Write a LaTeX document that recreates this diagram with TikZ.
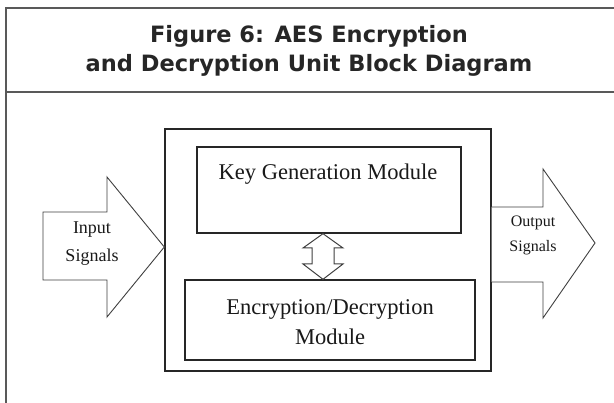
\documentclass[tikz,border=0pt]{standalone}
\usepackage{fontspec}
\setmainfont{Liberation Serif}
\newfontfamily\titlefont{DejaVu Sans}
\begin{document}
\begin{tikzpicture}[x=1pt,y=-1pt,
  frameline/.style={draw=black!65, line width=1.1pt},
  blockbox/.style={draw=black!85, line width=1.4pt},
  arrowshape/.style={draw=black!75, line width=0.9pt, line join=miter, fill=white},
  titletext/.style={font=\titlefont\bfseries\fontsize{22.5}{29}\selectfont, text=black!85, align=center},
  blocktext/.style={font=\fontsize{22.5}{30}\selectfont, text=black!90, align=center},
  sigtext/.style={font=\fontsize{18}{28}\selectfont, text=black!90, align=center, inner sep=0pt}]
\useasboundingbox (0,0) rectangle (614,403);
\fill[white] (0,0) rectangle (614,403);

% panel frame: open on the right and bottom, with a header rule
\draw[frameline] (6,403) -- (6,8) -- (614,8);
\draw[frameline] (6,92) -- (614,92);
\node[titletext] (title) at (309,51) {Figure 6: AES Encryption\\and Decryption Unit Block Diagram};

% unit outline and its two modules
\node[blockbox, minimum width=326pt, minimum height=242pt, inner sep=0pt] (unit) at (328,250) {};
\node[blockbox, minimum width=264pt, minimum height=86pt, inner sep=0pt] (keygen) at (329,190) {};
\node[blocktext] (keytext) at (328,174) {Key Generation Module};
\node[blockbox, minimum width=290pt, minimum height=80pt, inner sep=0pt] (encdec) at (330,320) {};
\node[blocktext] (enctext) at (330,322) {Encryption/Decryption\\Module};

% input arrow pointing into the unit
\coordinate (inTip) at (unit.west |- 0,247);
\draw[arrowshape] (43,212) -- (107,212) -- (107,177) -- (inTip) -- (107,317) -- (107,280) -- (43,280) -- cycle;
\node[sigtext] (intext) at (92,244) {Input\\Signals};

% output arrow leaving the unit
\coordinate (outTip) at (595,243);
\draw[arrowshape] (unit.east |- 0,207) -- (543,207) -- (543,169) -- (outTip) -- (543,318) -- (543,282) -- (unit.east |- 0,282);
\node[sigtext, font=\fontsize{16}{25}\selectfont] (outtext) at (533,235) {Output\\Signals};

% two-way arrow between the modules
\coordinate (upTip) at (keygen.south -| 323,0);
\coordinate (downTip) at (encdec.north -| 323,0);
\draw[arrowshape, line width=1pt] (upTip) -- (343,248) -- (334,248) -- (334,264) -- (343,264) -- (downTip)
  -- (303,264) -- (312,264) -- (312,248) -- (303,248) -- cycle;
\end{tikzpicture}
\end{document}
